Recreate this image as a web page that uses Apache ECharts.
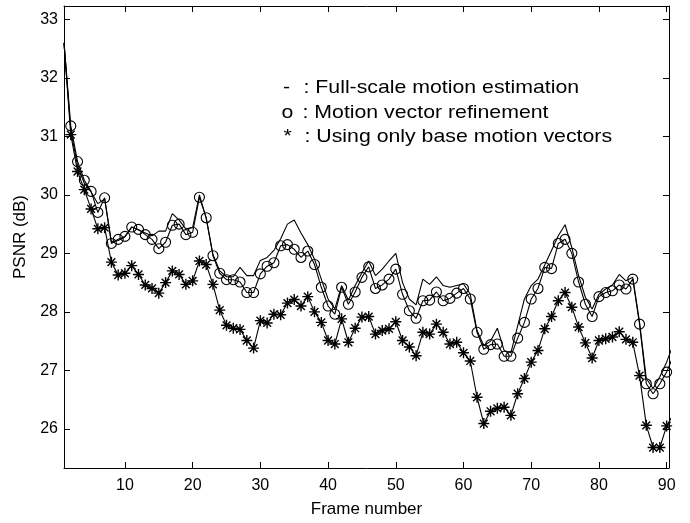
<!DOCTYPE html>
<html><head><meta charset="utf-8">
<script src="https://cdn.jsdelivr.net/npm/echarts@6/dist/echarts.min.js"></script>
<style>html,body{margin:0;padding:0;background:#fff}#c{width:690px;height:523px}</style>
</head><body><div id="c"></div>
<script>
const frames = [1,2,3,4,5,6,7,8,9,10,11,12,13,14,15,16,17,18,19,20,21,22,23,24,25,26,27,28,29,30,
  31,32,33,34,35,36,37,38,39,40,41,42,43,44,45,46,47,48,49,50,51,52,53,54,55,56,57,58,59,60,
  61,62,63,64,65,66,67,68,69,70,71,72,73,74,75,76,77,78,79,80,81,82,83,84,85,86,87,88,89,90,91];

const fullScale = [32.6,31.1,30.5,30.2,30.05,29.85,29.93,29.2,29.22,29.28,
  29.45,29.4,29.35,29.3,29.38,29.38,29.68,29.57,29.42,29.44,
  30.0,29.6,28.98,28.7,28.6,28.6,28.76,28.62,28.62,28.88,
  28.93,29.05,29.25,29.5,29.57,29.35,29.15,28.9,28.56,28.22,
  28.05,28.45,28.2,28.45,28.67,28.87,28.62,28.73,28.87,29.0,
  28.5,28.22,28.12,28.56,28.47,28.6,28.45,28.42,28.45,28.48,
  28.3,27.68,27.42,27.5,27.72,27.34,27.3,27.76,28.22,28.45,
  28.56,28.8,29.05,29.3,29.49,29.1,28.62,28.25,28.05,28.3,
  28.39,28.46,28.64,28.53,28.59,27.82,26.86,26.69,26.89,27.14,27.45];

const refinement = [32.6,31.18,30.57,30.25,30.06,29.7,29.95,29.17,29.24,29.29,
  29.45,29.41,29.32,29.24,29.08,29.19,29.48,29.5,29.32,29.36,
  29.96,29.61,28.96,28.66,28.55,28.55,28.51,28.33,28.33,28.65,
  28.78,28.84,29.13,29.15,29.07,28.93,29.04,28.81,28.42,28.1,
  27.96,28.42,28.13,28.34,28.59,28.77,28.4,28.46,28.56,28.73,
  28.3,28.02,27.89,28.19,28.2,28.34,28.19,28.23,28.32,28.4,
  28.22,27.65,27.36,27.44,27.45,27.24,27.24,27.55,27.82,28.22,
  28.4,28.76,28.74,29.17,29.24,29.0,28.51,28.13,27.92,28.26,
  28.33,28.36,28.46,28.39,28.56,27.79,26.77,26.6,26.77,26.97,27.25];

const baseOnly = [32.6,31.03,30.4,30.09,29.76,29.42,29.44,28.85,28.63,28.66,
  28.79,28.64,28.46,28.4,28.32,28.5,28.7,28.64,28.47,28.53,
  28.87,28.81,28.47,28.03,27.77,27.72,27.7,27.51,27.38,27.85,
  27.81,27.96,27.95,28.15,28.21,28.1,28.26,28.0,27.82,27.51,
  27.45,27.88,27.48,27.72,27.91,27.92,27.62,27.68,27.71,27.83,
  27.51,27.4,27.25,27.65,27.62,27.79,27.65,27.45,27.48,27.3,
  27.16,26.54,26.09,26.3,26.35,26.37,26.23,26.6,26.86,27.14,
  27.34,27.71,27.92,28.19,28.33,28.08,27.74,27.47,27.21,27.51,
  27.54,27.57,27.66,27.53,27.48,26.91,26.06,25.68,25.68,26.05,26.25];

const xTicks = [10,20,30,40,50,60,70,80,90];
const yTicks = [26,27,28,29,30,31,32,33];
const legendSymbols = ['-','o','*'];
const legendTexts = [': Full-scale motion estimation', ': Motion vector refinement', ': Using only base motion vectors'];

// first sample sits on the left axis and shows no marker in the reference
const pair = arr => frames.map((f,i)=> i===0 ? {value:[f, arr[i]], symbol:'none'} : [f, arr[i]]);
const FONT = 'Liberation Sans, Arial, Helvetica, sans-serif';
const axisCommon = {
  axisLine:{show:true,onZero:false,lineStyle:{color:'#000',width:1}},
  splitLine:{show:false}
};
const chart = echarts.init(document.getElementById('c'), null, {renderer:'canvas'});
const asterisk = 'path://M0,5L10,5M5,0L5,10M1.46,1.46L8.54,8.54M8.54,1.46L1.46,8.54';

const legendX = [[283,303.5],[281.5,302.5],[283.5,304.5]];
const legendY = [88,112.5,137];
const graphic = [];
for (let i=0;i<3;i++){
  graphic.push({type:'text', x:legendX[i][0], y:legendY[i], scaleX:1.12,
    style:{text:legendSymbols[i], font:'19px '+FONT, fill:'#000', verticalAlign:'middle'}});
  graphic.push({type:'text', x:legendX[i][1], y:legendY[i], scaleX:1.12,
    style:{text:legendTexts[i], font:'19px '+FONT, fill:'#000', verticalAlign:'middle'}});
}

chart.setOption({
  animation:false,
  backgroundColor:'#fff',
  grid:{left:64, top:6, right:21, bottom:54, containLabel:false},
  xAxis:[{
    type:'value', min:1, max:90.35, position:'bottom', ...axisCommon,
    name:'Frame number', nameLocation:'middle', nameGap:33,
    nameTextStyle:{color:'#000', fontSize:17, fontFamily:FONT},
    axisTick:{show:true, inside:true, length:6, customValues:xTicks, lineStyle:{color:'#000'}},
    axisLabel:{show:true, customValues:xTicks, margin:10, color:'#000', fontSize:16, fontFamily:FONT}
  },{
    type:'value', min:1, max:90.35, position:'top', ...axisCommon,
    axisTick:{show:true, inside:true, length:6, customValues:xTicks, lineStyle:{color:'#000'}},
    axisLabel:{show:false}
  }],
  yAxis:[{
    type:'value', min:25.33, max:33.23, position:'left', ...axisCommon,
    name:'PSNR (dB)', nameLocation:'middle', nameGap:32, nameRotate:90,
    nameTextStyle:{color:'#000', fontSize:17, fontFamily:FONT},
    axisTick:{show:true, inside:true, length:6, customValues:yTicks, lineStyle:{color:'#000'}},
    axisLabel:{show:true, customValues:yTicks, margin:6, color:'#000', fontSize:16, fontFamily:FONT}
  },{
    type:'value', min:25.33, max:33.23, position:'right', ...axisCommon,
    axisTick:{show:true, inside:true, length:6, customValues:yTicks, lineStyle:{color:'#000'}},
    axisLabel:{show:false}
  }],
  series:[{
    name:'Full-scale motion estimation', type:'line', data:pair(fullScale),
    showSymbol:false, clip:true,
    lineStyle:{color:'#000', width:1.1}, itemStyle:{color:'#000'}
  },{
    name:'Motion vector refinement', type:'line', data:pair(refinement),
    symbol:'circle', symbolSize:10, showAllSymbol:true, clip:true,
    lineStyle:{color:'#000', width:1.1},
    itemStyle:{color:'rgba(0,0,0,0)', borderColor:'#000', borderWidth:1.1}
  },{
    name:'Using only base motion vectors', type:'line', data:pair(baseOnly),
    symbol:asterisk, symbolSize:11, showAllSymbol:true, clip:true,
    lineStyle:{color:'#000', width:1.1},
    itemStyle:{color:'rgba(0,0,0,0)', borderColor:'#000', borderWidth:1.4}
  }],
  graphic:graphic
});
</script>
</body></html>
